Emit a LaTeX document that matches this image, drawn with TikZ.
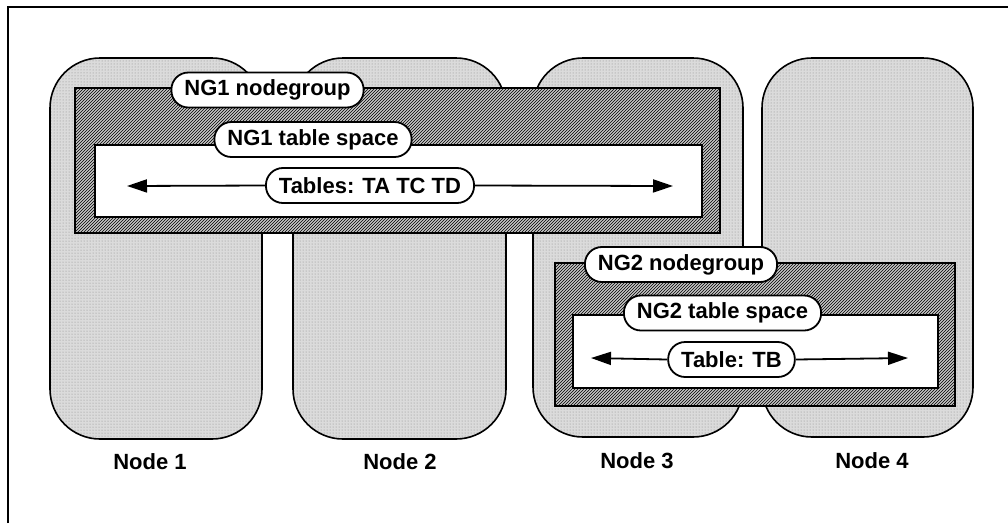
\documentclass[tikz,border=0pt]{standalone}
\usepackage{fontspec}
\setmainfont{Liberation Sans}
\usetikzlibrary{patterns,arrows.meta}
\tikzset{
  lane/.style={draw, line width=1.6pt, rounded corners=50pt, inner sep=0pt, outer sep=0pt,
    preaction={fill=gray!28}, pattern=dots, pattern color=gray!95},
  grouprect/.style={draw, line width=2.5pt, inner sep=0pt, outer sep=0pt,
    preaction={fill=gray!45}, pattern=north east lines, pattern color=black},
  spacerect/.style={draw, line width=2.5pt, fill=white, inner sep=0pt, outer sep=0pt},
  pill/.style={draw, line width=1.8pt, fill=white, rounded corners=17pt, minimum height=35pt,
    inner xsep=13pt, inner ysep=0pt, font=\fontsize{22}{26}\bfseries\selectfont},
  lbl/.style={font=\fontsize{22}{26}\bfseries\selectfont, inner sep=0pt},
  arr/.style={line width=1.8pt, -{Triangle[length=20pt,width=13pt]}},
}
\begin{document}
\begin{tikzpicture}[x=1pt,y=-1pt]
\useasboundingbox (0,0) rectangle (1008,523);
% frame
\draw[line width=2pt] (8,523) -- (8,7) -- (1008,7);
% nodes
\node[lane, minimum width=212pt, minimum height=381pt] (n1) at (156,248.5) {};
\node[lane, minimum width=213pt, minimum height=381pt] (n2) at (399.5,248.5) {};
\node[lane, minimum width=210pt, minimum height=379pt] (n3) at (638,247.5) {};
\node[lane, minimum width=211pt, minimum height=379pt] (n4) at (867.5,247.5) {};
\node[lbl] (l1) at (150,462) {Node 1};
\node[lbl] (l2) at (400,462) {Node 2};
\node[lbl] (l3) at (637,461) {Node 3};
\node[lbl] (l4) at (872,461) {Node 4};
% NG1
\node[grouprect, minimum width=645pt, minimum height=145pt] (ng1) at (397.5,160.5) {};
\node[spacerect, minimum width=607pt, minimum height=72pt] (ts1) at (398.5,181) {};
\node[pill] (p1) at (267.5,90) {NG1 nodegroup};
\node[pill] (q1) at (313,139.5) {NG1 table space};
\node[pill] (t1) at (370,185.5) {Tables: TA TC TD};
\coordinate (a1l) at (127,186);
\coordinate (a1r) at (673,186);
\draw[arr] (t1.west) -- (a1l);
\draw[arr] (t1.east) -- (a1r);
% NG2
\node[grouprect, minimum width=400pt, minimum height=143pt] (ng2) at (755,334.5) {};
\node[spacerect, minimum width=365pt, minimum height=73pt] (ts2) at (755.5,351.5) {};
\node[pill] (p2) at (681,264.5) {NG2 nodegroup};
\node[pill] (q2) at (722.5,313) {NG2 table space};
\node[pill] (t2) at (731.5,359.5) {Table: TB};
\coordinate (a2l) at (591,358);
\coordinate (a2r) at (908,358);
\draw[arr] (t2.west) -- (a2l);
\draw[arr] (t2.east) -- (a2r);
\end{tikzpicture}
\end{document}
